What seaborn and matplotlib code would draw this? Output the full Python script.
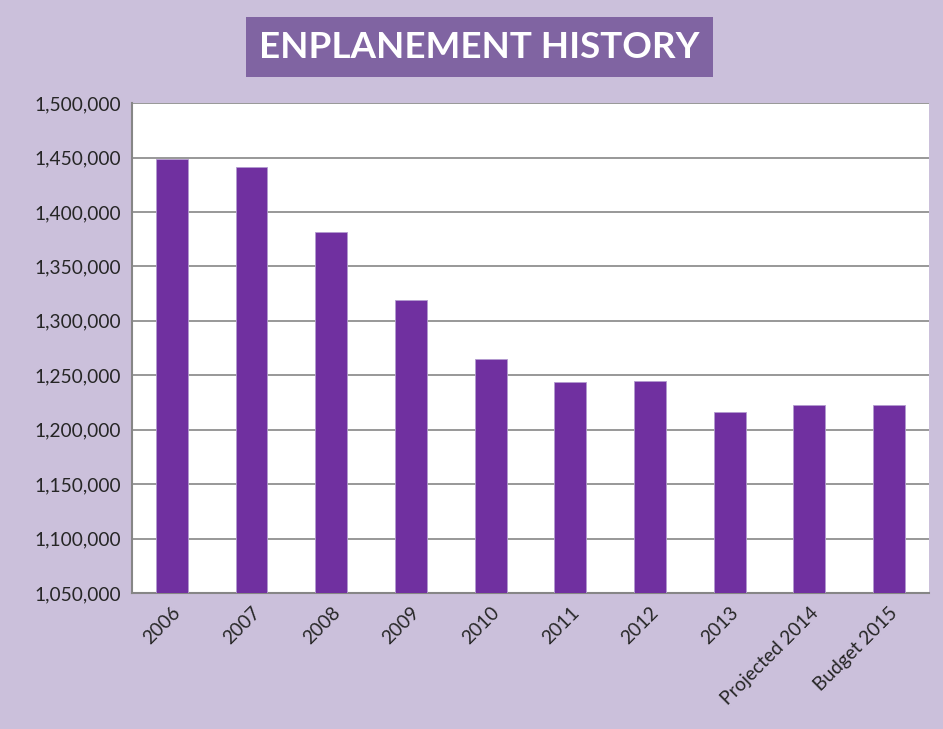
import pandas as pd
import matplotlib.pyplot as plt
import matplotlib.ticker as mticker
import seaborn as sns

# Dados do gráfico
anos = ['2006', '2007', '2008', '2009', '2010', '2011', '2012', '2013',
        'Projected 2014', 'Budget 2015']
embarques = [1448500, 1441000, 1381500, 1319000, 1265000, 1243800,
             1244700, 1216300, 1222600, 1222600]

df = pd.DataFrame({'Ano': anos, 'Embarques': embarques})

sns.set_style("white")
plt.rcParams['font.family'] = ['Lato', 'DejaVu Sans']

fundo = '#CBC0DB'
fig = plt.figure(figsize=(9.43, 7.29), dpi=100, facecolor=fundo)
ax = fig.add_axes([0.140, 0.1866, 0.845, 0.672])
ax.set_facecolor('white')

sns.barplot(x='Ano', y='Embarques', data=df, color='#7030A0',
            width=0.4, saturation=1, ax=ax, zorder=3)
for b in ax.patches:
    b.set_edgecolor('#B39BD0')
    b.set_linewidth(0.6)

ax.set_ylim(1050000, 1500000)
ax.set_xlim(-0.5, len(anos) - 0.5)
ax.yaxis.set_major_locator(mticker.MultipleLocator(50000))
ax.yaxis.set_major_formatter(mticker.FuncFormatter(lambda v, p: f'{v:,.0f}'))
ax.grid(axis='y', color='#868686', linewidth=1.2, zorder=0)
ax.set_axisbelow(True)

for s in ['top', 'right']:
    ax.spines[s].set_visible(False)
for s in ['left', 'bottom']:
    ax.spines[s].set_color('#868686')
    ax.spines[s].set_linewidth(1.5)

ax.set_xlabel('')
ax.set_ylabel('')
ax.tick_params(axis='y', labelsize=13.8, length=0, pad=8)
ax.tick_params(axis='x', labelsize=13.8, length=0, pad=8)
plt.setp(ax.get_xticklabels(), rotation=45, ha='right', rotation_mode='anchor')

fig.text(0.508, 0.9355, 'ENPLANEMENT HISTORY', ha='center', va='center',
         fontsize=26.5, fontweight='bold', color='white',
         bbox=dict(boxstyle='square,pad=0.36', facecolor='#8064A2', edgecolor='none'))

plt.savefig('out.png', dpi=100, facecolor=fundo)
